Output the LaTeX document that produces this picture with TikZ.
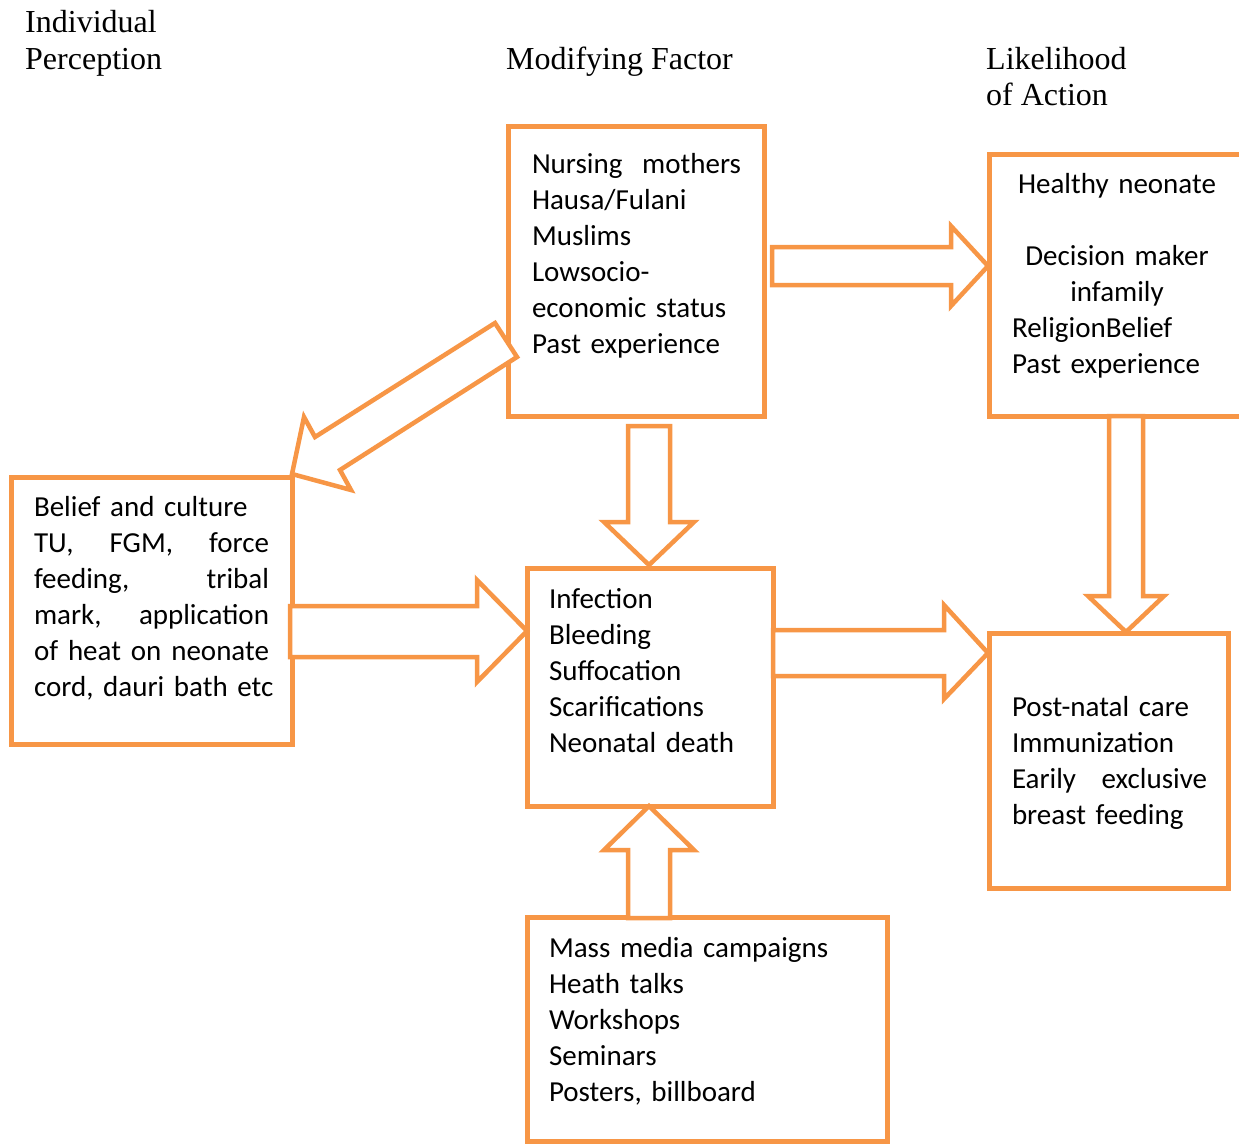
\documentclass[tikz,border=0pt]{standalone}
\usepackage{fontspec}
\setmainfont{Carlito}
\newfontfamily\titlefont{Liberation Serif}
\definecolor{hbmorange}{HTML}{F79646}
\begin{document}
\begin{tikzpicture}[x=1pt,y=-1pt,
  boxnode/.style={draw=hbmorange, line width=5pt, rectangle, inner sep=0pt, outer sep=0pt, anchor=north west},
  txt/.style={anchor=north west, inner sep=0pt, outer sep=0pt, text width=330pt, font=\fontsize{29}{36}\selectfont, execute at begin node={\raggedright}},
  ttl/.style={anchor=base west, inner sep=0pt, font=\titlefont\fontsize{32}{36}\selectfont},
  blockarrow/.style={draw=hbmorange, line width=4.5pt, fill=white, line join=miter}]
\useasboundingbox (0,0) rectangle (1239,1143);

% titles
\node[ttl] (t1) at (25,32) {Individual};
\node[ttl] (t1b) at (25,69) {Perception};
\node[ttl] (t2) at (506,69) {Modifying Factor};
\node[ttl] (t3) at (986,69) {Likelihood};
\node[ttl] (t3b) at (986,105) {of Action};

% boxes
\node[boxnode, minimum width=256pt, minimum height=290pt] (A) at (508,126) {};
\node[boxnode, minimum width=270pt, minimum height=262pt] (B) at (989,154) {};
\node[boxnode, minimum width=281pt, minimum height=267pt] (C) at (11,477) {};
\node[boxnode, minimum width=246pt, minimum height=238pt] (D) at (527,568) {};
\node[boxnode, minimum width=239pt, minimum height=255pt] (E) at (989,633) {};
\node[boxnode, minimum width=360pt, minimum height=224pt] (F) at (527,917) {};

% texts
\node[txt] (ta) at (532,147.8) {\strut\makebox[209pt][l]{Nursing\hfill mothers}\\Hausa/Fulani\\Muslims\\Lowsocio-\\economic status\\Past experience};
\node[txt] (tb) at (1012,167.8) {\strut\makebox[210pt][c]{Healthy neonate}\\\mbox{}\\\makebox[210pt][c]{Decision maker}\\\makebox[210pt][c]{infamily}\\ReligionBelief\\Past experience};
\node[txt] (tc) at (34,490.8) {\strut Belief and culture\\\makebox[235pt][l]{TU,\hfill FGM,\hfill force}\\\makebox[235pt][l]{feeding,\hfill tribal}\\\makebox[235pt][l]{mark,\hfill application}\\\makebox[235pt][l]{of\hfill heat\hfill on\hfill neonate}\\cord, dauri bath etc};
\node[txt] (td) at (549,582.8) {\strut Infection\\Bleeding\\Suffocation\\Scarifications\\Neonatal death};
\node[txt] (te) at (1012,690.8) {\strut Post-natal care\\Immunization\\\makebox[195pt][l]{Earily\hfill exclusive}\\breast feeding};
\node[txt] (tf) at (549,931.8) {\strut Mass media campaigns\\Heath talks\\Workshops\\Seminars\\Posters, billboard};

% block arrows
% A -> B
\draw[blockarrow] (772,247) -- (951,247) -- (951,226) -- (988,266) -- (951,306) -- (951,285) -- (772,285) -- cycle;
% A -> C
\draw[blockarrow] (495,323) -- (517,357) -- (340,470) -- (351,490) -- (292,474) -- (304,417) -- (315,437) -- cycle;
% A -> D
\draw[blockarrow] (628,426) -- (670,426) -- (670,522) -- (694,522) -- (649,565) -- (604,522) -- (628,522) -- cycle;
% C -> D
\draw[blockarrow] (290,606) -- (477,606) -- (477,580) -- (527,631) -- (477,682) -- (477,657) -- (290,657) -- cycle;
% D -> E
\draw[blockarrow] (773,630) -- (944,630) -- (944,605) -- (988,653) -- (944,699) -- (944,676) -- (773,676) -- cycle;
% B -> E
\draw[blockarrow] (1109,416) -- (1143,416) -- (1143,596) -- (1164,596) -- (1126,632) -- (1088,596) -- (1109,596) -- cycle;
% F -> D
\draw[blockarrow] (628,918) -- (670,918) -- (670,850) -- (694,850) -- (649,806) -- (604,850) -- (628,850) -- cycle;
\end{tikzpicture}
\end{document}
